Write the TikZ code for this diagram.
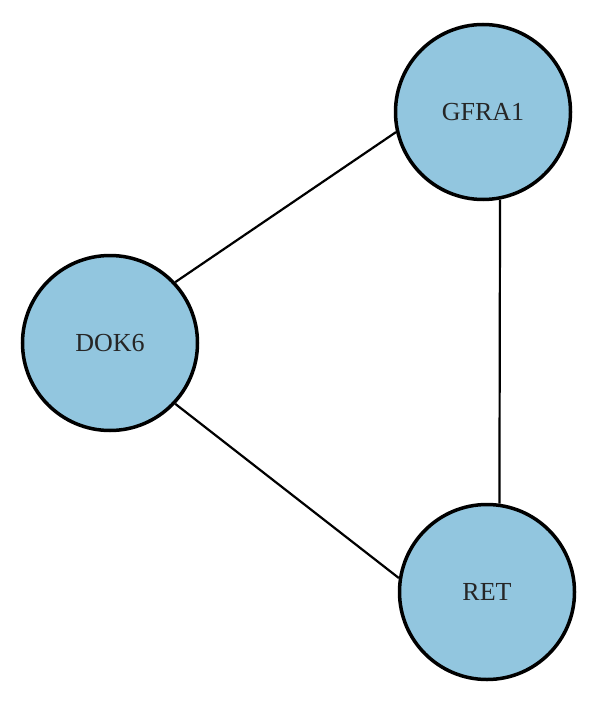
\documentclass[tikz,border=0pt]{standalone}
\usepackage{fontspec}
\setmainfont{Liberation Serif}
\definecolor{nodefill}{RGB}{146,198,223}
\tikzset{
  gene/.style={circle, draw=black, line width=3.5pt, fill=nodefill, minimum size=175pt, inner sep=0pt, font=\fontsize{26}{31}\selectfont, text=black!85},
  link/.style={draw=black, line width=2.2pt}
}
\begin{document}
\begin{tikzpicture}[x=1pt,y=-1pt]
\useasboundingbox (0,0) rectangle (600,703);
\node[gene] (GFRA1) at (483,112) {GFRA1};
\node[gene] (DOK6) at (110,343) {DOK6};
\node[gene] (RET) at (487,592) {RET};
\draw[link] (DOK6.43) -- (GFRA1.193);
\draw[link] (DOK6.-43) -- (RET.171);
\draw[link] (GFRA1.-79) -- (RET.82);
\end{tikzpicture}
\end{document}
